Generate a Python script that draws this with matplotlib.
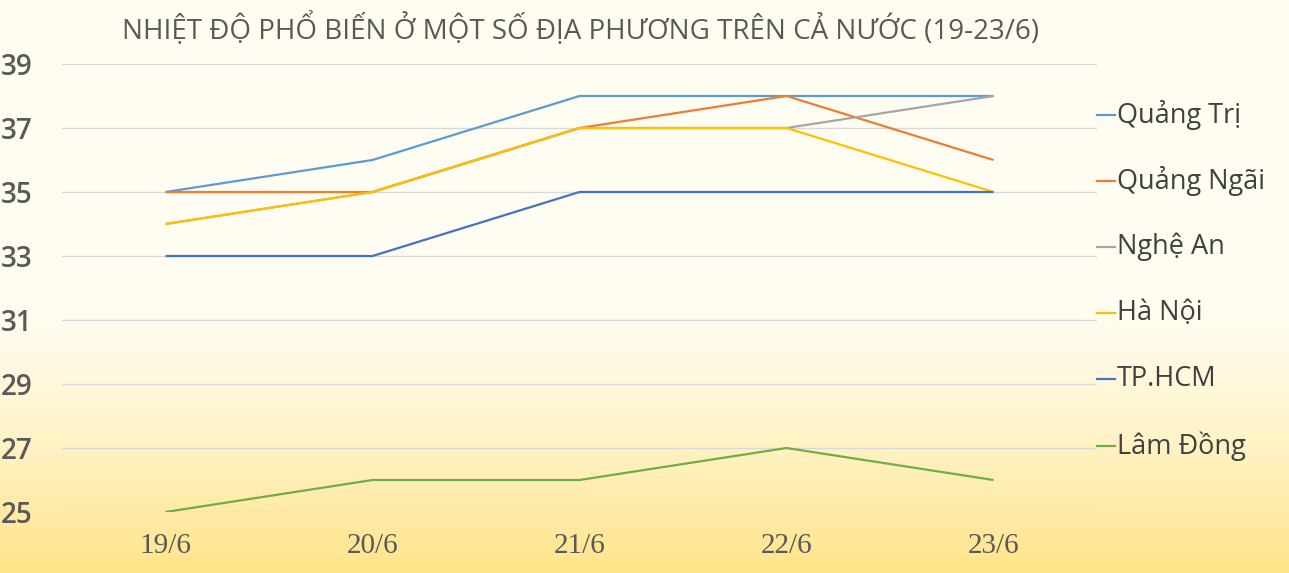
import numpy as np
import matplotlib
matplotlib.use("Agg")
import matplotlib.pyplot as plt
from matplotlib.lines import Line2D

title = "NHIỆT ĐỘ PHỔ BIẾN Ở MỘT SỐ ĐỊA PHƯƠNG TRÊN CẢ NƯỚC (19-23/6)"
dates = ["19/6", "20/6", "21/6", "22/6", "23/6"]
series_names = ["Quảng Trị", "Quảng Ngãi", "Nghệ An", "Hà Nội", "TP.HCM", "Lâm Đồng"]
quang_tri = [35, 36, 38, 38, 38]
quang_ngai = [35, 35, 37, 38, 36]
nghe_an = [34, 35, 37, 37, 38]
ha_noi = [34, 35, 37, 37, 35]
tp_hcm = [33, 33, 35, 35, 35]
lam_dong = [25, 26, 26, 27, 26]
series_values = [quang_tri, quang_ngai, nghe_an, ha_noi, tp_hcm, lam_dong]
colors = ["#5B9BD5", "#ED7D31", "#A5A5A5", "#FFC000", "#4472C4", "#70AD47"]
yticks = [25, 27, 29, 31, 33, 35, 37, 39]

W, H = 1289, 573
fig = plt.figure(figsize=(W / 100, H / 100), dpi=100)

# background gradient
bg = fig.add_axes([0, 0, 1, 1], zorder=-10)
top = np.array([255, 253, 241]) / 255
bot = np.array([255, 228, 137]) / 255
rows = np.arange(H)
t = np.clip((rows - 300) / (H - 300), 0, 1) ** 1.3
grad = top[None, :] * (1 - t[:, None]) + bot[None, :] * t[:, None]
img = np.repeat(grad[:, None, :], 4, axis=1)
bg.imshow(img, aspect="auto", extent=[0, 1, 0, 1], origin="upper")
bg.axis("off")

ax = fig.add_axes([62 / W, 1 - 512 / H, (1097 - 62) / W, (512 - 64) / H])
ax.patch.set_alpha(0)
x = np.arange(len(dates))
for name, vals, c in zip(series_names, series_values, colors):
    ax.plot(x, vals, color=c, lw=1.6, solid_capstyle="butt", label=name)

ax.set_xlim(-0.5, len(dates) - 0.5)
ax.set_ylim(25, 39)
ax.set_yticks(yticks)
ax.set_xticks(x)
ax.set_xticklabels(dates, family="Liberation Serif", fontsize=21, color="#595959")
ax.set_yticklabels([str(v) for v in yticks], family="Open Sans", fontsize=20,
                   fontweight="semibold", color="#595959", ha="left")
ax.tick_params(axis="y", length=0, pad=44)
ax.tick_params(axis="x", length=0, pad=15)
ax.grid(axis="y", color="#D9D9D9", lw=1)
ax.set_axisbelow(True)
for s in ax.spines.values():
    s.set_visible(False)

fig.text(581 / W, 1 - 28 / H, title, ha="center", va="center",
         family="Open Sans", fontsize=20, color="#595959")

# legend
leg_y = [115, 181, 247, 313, 379, 446]
for name, c, yy in zip(series_names, colors, leg_y):
    fy = 1 - yy / H
    fig.add_artist(Line2D([1097 / W, 1115 / W], [fy, fy], color=c, lw=1.6))
    fig.text(1117 / W, fy, name, ha="left", va="center", family="Open Sans",
             fontsize=19.5, fontweight="medium", color="#404040")

fig.savefig("out.png", dpi=100)
